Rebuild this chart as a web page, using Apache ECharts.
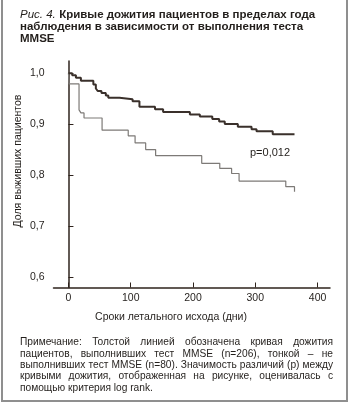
<!DOCTYPE html>
<html lang="ru">
<head>
<meta charset="UTF-8">
<title>Кривые дожития</title>
<style>
  html, body { margin: 0; padding: 0; background: #fff; }
  #box { width: 350px; height: 405px; }
</style>
<script src="https://cdn.jsdelivr.net/npm/echarts@6/dist/echarts.min.js"></script>
</head>
<body>
<div id="box"></div>
<script>
// сроки (дни) и доля выживших — толстая линия, MMSE выполнен (n=206)
const thickDays = [0, 6, 12, 20, 40, 44, 47, 53, 60, 64, 82, 103, 114, 139, 152, 195, 211, 231, 242, 251, 272, 294, 302, 328, 363];
const thickSurv = [1.0, 0.996, 0.991, 0.985, 0.978, 0.970, 0.965, 0.961, 0.956, 0.952, 0.949, 0.945, 0.934, 0.929, 0.924, 0.919, 0.915, 0.910, 0.905, 0.900, 0.895, 0.890, 0.886, 0.880, 0.880];
// тонкая линия, MMSE не выполнен (n=80)
const thinDays = [0, 1, 17, 20, 25, 54, 96, 107, 124, 140, 214, 243, 262, 274, 349, 363];
const thinSurv = [1.0, 0.979, 0.928, 0.922, 0.912, 0.888, 0.877, 0.863, 0.850, 0.838, 0.823, 0.813, 0.803, 0.788, 0.777, 0.767];

const xTicks = [0, 100, 200, 300, 400];
const yTicks = [0.6, 0.7, 0.8, 0.9, 1.0];

const titleLines = ['Кривые дожития пациентов в пределах года', 'наблюдения в зависимости от выполнения теста', 'MMSE'];
const noteLines = [
  'Примечание: Толстой линией обозначена кривая дожития',
  'пациентов, выполнивших тест MMSE (n=206), тонкой – не',
  'выполнивших тест MMSE (n=80). Значимость различий (р) между',
  'кривыми дожития, отображенная на рисунке, оценивалась с',
  'помощью критерия log rank.'
];

const FONT = '"Liberation Sans", Arial, sans-serif';
const TXT = '#231f1c';
const AXIS = '#2e231c';

// выравнивание по ширине: раскладываем слова строки вручную
function justify(lines, x, y, width, lh, size) {
  const ctx = document.createElement('canvas').getContext('2d');
  const font = size + 'px ' + FONT;
  ctx.font = font;
  const out = [];
  lines.forEach(function (line, i) {
    const words = line.split(' ');
    const widths = words.map(w => ctx.measureText(w).width);
    const total = widths.reduce((a, b) => a + b, 0);
    const last = i === lines.length - 1;
    const gap = last ? ctx.measureText(' ').width : (width - total) / (words.length - 1);
    let cx = x;
    words.forEach(function (w, j) {
      out.push({
        type: 'text', x: cx, y: y + i * lh, silent: true,
        style: { text: w, font: font, fill: TXT, textVerticalAlign: 'middle' }
      });
      cx += widths[j] + gap;
    });
  });
  return out;
}

const chart = echarts.init(document.getElementById('box'), null, { renderer: 'canvas' });

const option = {
  animation: false,
  grid: { left: 53.5, right: 20, top: 61, bottom: 117.5 },
  xAxis: {
    type: 'value', min: -24, max: 420,
    axisLine: { lineStyle: { color: AXIS, width: 1.5 } },
    axisTick: { inside: true, length: 5, customValues: xTicks, lineStyle: { color: AXIS, width: 1 } },
    axisLabel: { customValues: xTicks, color: TXT, fontSize: 10.5, fontFamily: FONT, margin: 5 },
    splitLine: { show: false }
  },
  yAxis: {
    type: 'value', min: 0.579, max: 1.024,
    axisLine: { show: true, lineStyle: { color: AXIS, width: 1.5 } },
    axisTick: { show: true, inside: true, length: 5, customValues: yTicks, lineStyle: { color: AXIS, width: 1 } },
    axisLabel: {
      customValues: yTicks, color: TXT, fontSize: 10.5, fontFamily: FONT, margin: 9,
      formatter: v => v.toFixed(1).replace('.', ',')
    },
    splitLine: { show: false }
  },
  series: [
    {
      name: 'MMSE выполнен', type: 'line', step: 'end', symbol: 'none',
      data: thickDays.map((d, i) => [d, thickSurv[i]]),
      lineStyle: { color: '#3a302b', width: 2 }, z: 3
    },
    {
      name: 'MMSE не выполнен', type: 'line', step: 'end', symbol: 'none',
      data: thinDays.map((d, i) => [d, thinSurv[i]]),
      lineStyle: { color: '#7d7a77', width: 1.2 }, z: 2
    }
  ],
  graphic: [
    // рамка
    { type: 'rect', silent: true, shape: { x: 2, y: -4, width: 345, height: 405 },
      style: { fill: null, stroke: '#8f8f8f', lineWidth: 2 } },
    // заголовок
    { type: 'text', x: 20, y: 9, silent: true,
      style: {
        text: '{i|Рис. 4.} {b|' + titleLines[0] + '}\n{b|' + titleLines[1] + '}\n{b|' + titleLines[2] + '}',
        textVerticalAlign: 'top', lineHeight: 12, fill: TXT,
        rich: {
          i: { fontStyle: 'italic', fontSize: 11.5, fontFamily: FONT, fill: TXT, lineHeight: 12 },
          b: { fontWeight: 'bold', fontSize: 11.5, fontFamily: FONT, fill: TXT, lineHeight: 12 }
        }
      } },
    { type: 'text', x: 250, y: 153, silent: true,
      style: { text: 'p=0,012', font: '11px ' + FONT, fill: TXT, textVerticalAlign: 'middle' } },
    { type: 'text', x: 18, y: 161, rotation: Math.PI / 2, silent: true,
      style: { text: 'Доля выживших пациентов', font: '10.5px ' + FONT, fill: TXT,
        textAlign: 'center', textVerticalAlign: 'middle' } },
    { type: 'text', x: 171, y: 317, silent: true,
      style: { text: 'Сроки летального исхода (дни)', font: '10.5px ' + FONT, fill: TXT,
        textAlign: 'center', textVerticalAlign: 'middle' } }
  ].concat(justify(noteLines, 20, 342.5, 313, 11.3, 10.2))
};

chart.setOption(option);
</script>
</body>
</html>
